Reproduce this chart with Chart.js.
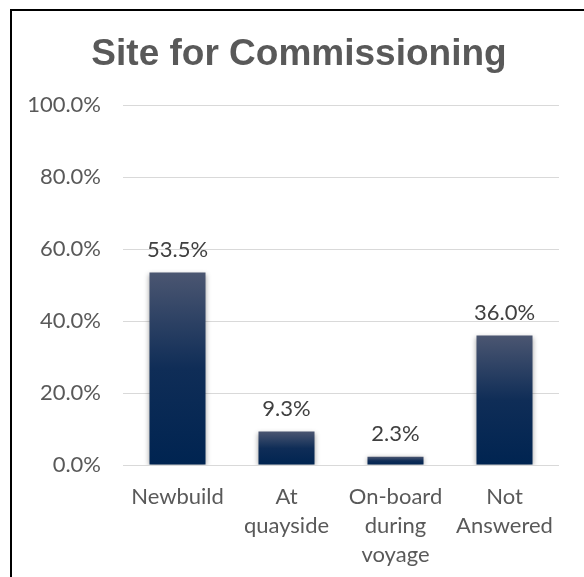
<!DOCTYPE html>
<html>
<head>
<meta charset="utf-8">
<script src="https://cdn.jsdelivr.net/npm/chart.js"></script>
<style>
  html, body { margin: 0; padding: 0; background: #fff; overflow: hidden; }
  #wrap { position: relative; width: 584px; height: 577px; }
  #frame {
    position: absolute; left: 10px; top: 9px; width: 700px; height: 700px;
    border-left: 2px solid #000; border-top: 2px solid #000; pointer-events: none;
  }
  canvas { position: absolute; left: 0; top: 0; }
</style>
</head>
<body>
<div id="wrap">
  <canvas id="siteChart" width="584" height="577"></canvas>
  <div id="frame"></div>
</div>
<script>
  const categories = ["Newbuild", ["At", "quayside"], ["On-board", "during", "voyage"], ["Not", "Answered"]];
  const shares = [53.5, 9.3, 2.3, 36.0];
  const yTicks = [0, 20, 40, 60, 80, 100];

  const FONT = "Lato, 'Open Sans', sans-serif";

  // bar fill: lighter slate at the top, fading into navy
  function barFill(c) {
    const chart = c.chart;
    const y = chart.scales && chart.scales.y;
    if (!y || c.raw === undefined) return "#0b2a55";
    const top = y.getPixelForValue(c.raw);
    const base = y.getPixelForValue(0);
    if (!isFinite(top) || !isFinite(base) || base - top < 1) return "#0b2a55";
    const g = chart.ctx.createLinearGradient(0, top, 0, base);
    g.addColorStop(0, "#4b5671");
    g.addColorStop(0.5, "#0f2d57");
    g.addColorStop(1, "#002451");
    return g;
  }

  const barShadow = {
    id: "barShadow",
    beforeDatasetDraw(chart) {
      const ctx = chart.ctx;
      ctx.save();
      ctx.shadowColor = "rgba(0,0,0,0.35)";
      ctx.shadowBlur = 5;
      ctx.shadowOffsetX = 0;
      ctx.shadowOffsetY = 1;
    },
    afterDatasetDraw(chart) {
      chart.ctx.restore();
    }
  };

  const valueLabels = {
    id: "valueLabels",
    afterDatasetsDraw(chart) {
      const ctx = chart.ctx;
      const meta = chart.getDatasetMeta(0);
      ctx.save();
      ctx.font = "22px " + FONT;
      ctx.fillStyle = "#404040";
      ctx.textAlign = "center";
      ctx.textBaseline = "middle";
      meta.data.forEach((bar, i) => {
        ctx.fillText(shares[i].toFixed(1) + "%", bar.x, bar.y - 23);
      });
      ctx.restore();
    }
  };

  new Chart(document.getElementById("siteChart"), {
    type: "bar",
    data: {
      labels: categories,
      datasets: [{
        label: "Site for Commissioning",
        data: shares,
        backgroundColor: barFill,
        borderWidth: 0,
        barPercentage: 0.514,
        categoryPercentage: 1
      }]
    },
    options: {
      responsive: false,
      animation: false,
      layout: { padding: { left: 14, right: 0, top: 0, bottom: 0 } },
      plugins: {
        legend: { display: false },
        tooltip: { enabled: false },
        title: {
          display: true,
          text: "Site for Commissioning",
          color: "#595959",
          font: { family: "'Liberation Sans', Arial, sans-serif", size: 37, weight: "bold", lineHeight: 1.2 },
          padding: { top: 33, bottom: 28 }
        }
      },
      scales: {
        x: {
          grid: { display: false, drawTicks: false },
          border: { display: false },
          ticks: {
            color: "#595959",
            font: { family: FONT, size: 22, lineHeight: 1.32 },
            padding: 17,
            maxRotation: 0,
            autoSkip: false
          },
          afterFit(scale) { scale.height = 112; }
        },
        y: {
          min: 0,
          max: 100,
          afterBuildTicks(scale) { scale.ticks = yTicks.map(v => ({ value: v })); },
          grid: { color: "#d9d9d9", lineWidth: 1, drawTicks: false },
          border: { display: false },
          ticks: {
            color: "#595959",
            font: { family: FONT, size: 22 },
            padding: 22,
            callback: v => v.toFixed(1) + "%"
          },
          afterFit(scale) { scale.width = 109; }
        },
        // empty right-hand strip so the plot stops short of the frame edge
        yRight: {
          position: "right",
          min: 0,
          max: 100,
          grid: { display: false, drawTicks: false },
          border: { display: false },
          ticks: { display: false },
          afterFit(scale) { scale.width = 25; }
        }
      }
    },
    plugins: [barShadow, valueLabels]
  });
</script>
</body>
</html>
